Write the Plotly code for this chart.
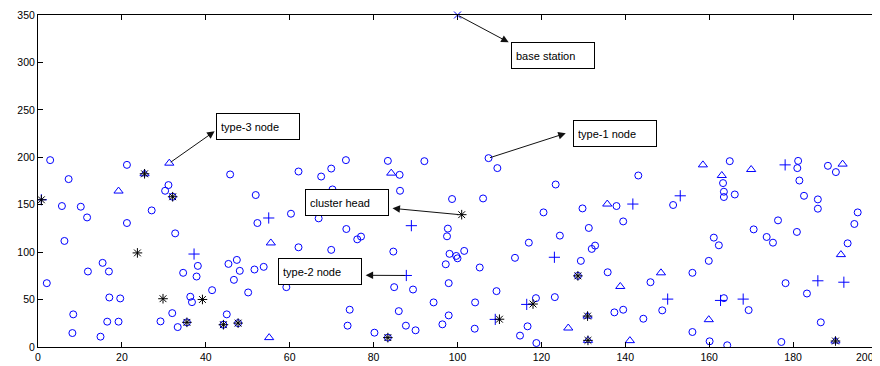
import plotly.graph_objects as go

# ---- data ----
circle_x = [2.9, 21.2, 7.3, 31.1, 30.3, 5.7, 10.2, 11.7, 27.1, 21.2, 32.7, 6.3, 15.4, 11.9, 16.9, 2.1, 17, 19.6, 8.4, 16.5, 19.2, 29.2, 8.2, 14.9, 32,
            32.1, 45.8, 34.6, 38.1, 37.8, 45.4, 47.4, 48.1, 46.7, 41.5, 36.3, 36.7, 33.3, 45, 50.1, 35.5, 44.2, 47.7,
            62.1, 51.9, 60.3, 52.3, 62.1, 51.6, 53.8, 58.5, 59.2,
            73.4, 83.4, 92.1, 69.9, 67.5, 86.2, 70.2, 86.3, 98.7, 66.9, 73.5, 76.1, 77, 69.9, 84.7, 97.7, 97.5, 98.1, 97.2, 97.9, 84.9, 89.4, 94.3, 74.3, 86, 97.9, 96.4, 73.8, 87.7, 90, 80.2, 83.4,
            107.4, 109.5, 123.4, 106.1, 120.5, 129.8, 131.3, 124.4, 117, 132, 132.8, 101.6, 99.7, 100, 113.7, 129.4, 105.3, 128.7, 109.3, 123.2, 118.7, 104.2, 116.7, 104.1, 114.9, 118.8,
            143.1, 164.9, 163.3, 163.5, 163.5, 166.1, 137.9, 151.4, 139.5, 161.1, 162.3, 159.9, 135.8, 156, 146, 163.5, 137.4, 139.5, 148.8, 144.3, 156, 160.1, 164.3,
            181.2, 181, 181.5, 188.3, 190.2, 182.6, 185.9, 185.9, 195.4, 194.6, 176.4, 170.6, 180.9, 173.7, 175.2, 193, 178.2, 183.3, 169.4, 200, 186.6, 177.2]
circle_y = [197, 192, 177, 170.7, 164.7, 148.6, 147.9, 136.6, 144, 130.7, 119.8, 111.8, 88.7, 79.6, 79.6, 67.3, 52.2, 51.2, 34.4, 26.7, 26.7, 27, 14.7, 10.9, 35.7,
            158.4, 181.9, 78.2, 85.5, 74.3, 87.6, 91.8, 80.3, 70.8, 59.9, 53, 47.3, 21, 34.4, 57.5, 26, 23.5, 25.2,
            185, 160.2, 140.5, 130.7, 105.1, 81.7, 84.5, 86.9, 63.1,
            197, 196.2, 195.9, 188.1, 179.7, 181.5, 166.1, 164.7, 156, 135.6, 124.4, 113.5, 116.4, 102.4, 100.6, 124.8, 116.7, 98.2, 87.2, 67.3, 63.1, 60.6, 47, 39.3, 37.8, 33.3, 23.9, 22.5, 22.5, 17.6, 15.1, 9.9,
            199.1, 188.6, 171.3, 156.6, 141.9, 146.1, 125.5, 117.4, 110, 103.4, 106.9, 101.3, 96, 93.5, 94, 90.8, 83.8, 75, 58.9, 52.6, 51.5, 47, 21.8, 19.3, 12, 4.2,
            180.8, 195.9, 172.8, 163.7, 158.1, 160.8, 148.6, 149.7, 132.4, 115.3, 107.2, 90.8, 78.8, 78.2, 68.3, 51.5, 36.5, 39.3, 38.6, 29.8, 15.8, 6, 1.8,
            196.2, 188.6, 175.5, 191, 184.4, 159.4, 155.6, 145.8, 141.9, 129.7, 133.5, 124, 121.3, 116, 110, 109.3, 67.3, 56.4, 38.9, 34, 26, 5.3]

tri_x = [19.2, 31.3, 25.4, 55.5, 55.1, 84.2, 131, 126.4, 131.1, 158.5, 163, 135.7, 148.5, 138.8, 159.9, 141.1, 170, 191.8, 191.4, 190.1]
tri_y = [164.4, 193.8, 182.6, 109.7, 9.9, 183.3, 32.6, 20, 7, 192, 180.8, 150.7, 78.2, 63.8, 28.8, 6.7, 187.1, 192.8, 97.4, 6.3]

plus_x = [0.8, 37.2, 55, 89, 87.8, 116.5, 109, 123.1, 141.8, 153.1, 150.1, 162.7, 178.1, 185.9, 192.1, 168.1]
plus_y = [155.2, 98, 136, 127.9, 75.4, 44.9, 29.1, 94.6, 150.7, 159.4, 50.5, 49.1, 192, 69.8, 68.3, 50.5]

head_x = [0.8, 25.4, 32.1, 23.7, 29.8, 39.2, 35.5, 44.2, 47.7, 83.4, 101, 128.7, 118, 110, 131, 131.1, 190.1]
head_y = [155.2, 182.6, 158.4, 99.2, 50.9, 50.1, 26, 23.5, 25.2, 9.9, 139.5, 75, 45.3, 29.3, 32.6, 7, 6.3]

base_x = [100]
base_y = [350]

x_ticks = list(range(0, 201, 20))
x_tick_labels = [str(v) for v in x_ticks]
y_ticks = list(range(0, 351, 50))

# labels: (text, box centre x, box centre y, arrow head x, head y, arrow tail x, tail y)
label_text = ["base station", "type-3 node", "type-1 node", "cluster head", "type-2 node"]
label_cx = [122.8, 52.4, 137.5, 73.6, 67.3]
label_cy = [307.5, 232.1, 224.7, 152.0, 79.8]
arrow_hx = [112.2, 42.1, 125.8, 84.5, 78.1]
arrow_hy = [321.2, 227.4, 225.3, 146.2, 75.6]
arrow_tx = [100, 31.3, 107.4, 100.5, 87.8]
arrow_ty = [350, 193.8, 199.1, 139.5, 75.4]

BLUE = "#0000ff"

fig = go.Figure()
fig.add_trace(go.Scatter(x=circle_x, y=circle_y, mode="markers",
                         marker=dict(symbol="circle-open", size=7, color=BLUE, line=dict(width=1))))
fig.add_trace(go.Scatter(x=tri_x, y=tri_y, mode="markers",
                         marker=dict(symbol="triangle-up-open", size=8, color=BLUE, line=dict(width=1))))
fig.add_trace(go.Scatter(x=plus_x, y=plus_y, mode="markers",
                         marker=dict(symbol="cross-thin-open", size=8, color=BLUE, line=dict(width=1))))
fig.add_trace(go.Scatter(x=head_x, y=head_y, mode="markers",
                         marker=dict(symbol="asterisk-open", size=8, color="black", line=dict(width=1, color="black"))))
fig.add_trace(go.Scatter(x=base_x, y=base_y, mode="markers", cliponaxis=False,
                         marker=dict(symbol="x-thin-open", size=7, color=BLUE, line=dict(width=1, color=BLUE))))

annotations = []
for t, cx, cy, hx, hy, tx, ty in zip(label_text, label_cx, label_cy, arrow_hx, arrow_hy, arrow_tx, arrow_ty):
    annotations.append(dict(x=cx, y=cy, xref="x", yref="y", text=t, showarrow=False,
                            font=dict(family="Liberation Sans, Arial", size=11, color="black"),
                            bgcolor="white", bordercolor="black", borderwidth=1, borderpad=4,
                            width=74, height=17, align="left", valign="middle"))
    annotations.append(dict(x=hx, y=hy, xref="x", yref="y", ax=tx, ay=ty, axref="x", ayref="y",
                            text="", showarrow=True, arrowhead=2, arrowsize=1.5, arrowwidth=1,
                            arrowcolor="#111111", standoff=0, startstandoff=0))

# last x tick label is drawn right-aligned so that it stays inside the window
annotations.append(dict(x=x_ticks[-1], y=0, xref="x", yref="paper", text=x_tick_labels[-1],
                        showarrow=False, xanchor="right", yanchor="top", xshift=-1, yshift=-2,
                        font=dict(family="Liberation Sans, Arial", size=10.5, color="black")))
shown_x_labels = x_tick_labels[:-1] + [""]

# the page body has an 8 px margin, so the figure is offset by 8 px
fig.update_layout(
    width=880, height=358,
    margin=dict(l=30, r=11, t=7, b=19),
    paper_bgcolor="white", plot_bgcolor="white",
    showlegend=False,
    annotations=annotations,
    font=dict(family="Liberation Sans, Arial", size=10, color="black"),
)
fig.update_xaxes(range=[0, 200], tickvals=x_ticks, ticktext=shown_x_labels, ticks="inside", ticklen=5,
                 tickcolor="black", showline=True, linecolor="black", linewidth=1, mirror="ticks",
                 showgrid=False, zeroline=False, automargin=False, tickfont=dict(size=10.5, color="black"))
fig.update_yaxes(range=[0, 350], tickvals=y_ticks, ticks="inside", ticklen=5, tickcolor="black",
                 showline=True, linecolor="black", linewidth=1, mirror="ticks", showgrid=False,
                 zeroline=False, automargin=False, tickfont=dict(size=10.5, color="black"))

fig.write_html("out.html")
